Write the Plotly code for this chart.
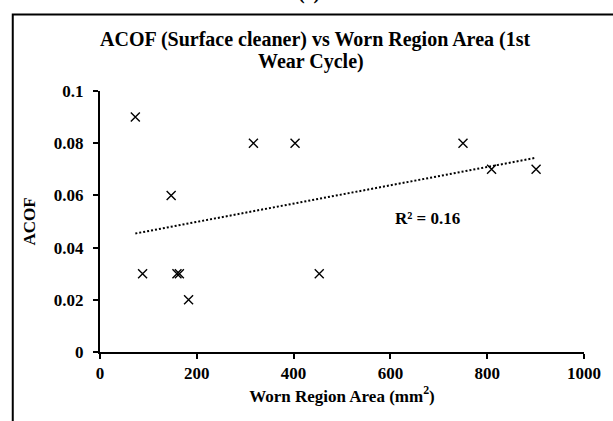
import numpy as np
import plotly.graph_objects as go

# ---- data ----
worn_area = [73, 88, 147, 159, 164, 183, 317, 403, 453, 750, 809, 901]
acof = [0.09, 0.03, 0.06, 0.03, 0.03, 0.02, 0.08, 0.08, 0.03, 0.08, 0.07, 0.07]

x_tick_vals = [0, 200, 400, 600, 800, 1000]
x_tick_text = ["0", "200", "400", "600", "800", "1000"]
y_tick_vals = [0, 0.02, 0.04, 0.06, 0.08, 0.1]
y_tick_text = ["0", "0.02", "0.04", "0.06", "0.08", "0.1"]

title_line1 = "ACOF (Surface cleaner) vs Worn Region Area (1st"
title_line2 = "Wear Cycle)"
x_title = "Worn Region Area (mm<sup>2</sup>)"
y_title = "ACOF"
panel_label = "(c)"

# ---- linear trend line from the data ----
xa = np.array(worn_area, dtype=float)
ya = np.array(acof, dtype=float)
slope, intercept = np.polyfit(xa, ya, 1)
pred = slope * xa + intercept
r2 = 1 - np.sum((ya - pred) ** 2) / np.sum((ya - ya.mean()) ** 2)
trend_x = [xa.min(), xa.max()]
trend_y = [slope * v + intercept for v in trend_x]

FONT = "Liberation Serif"
W, H = 613, 421
L, R, T, B = 100, 22, 91, 69
pw, ph = W - L - R, H - T - B


def px_x(p):
    return (p - L) / pw


def px_y(p):
    return (H - B - p) / ph


fig = go.Figure()
fig.add_trace(go.Scatter(
    x=trend_x, y=trend_y, mode="lines",
    line=dict(color="black", width=2, dash="2px,2px"),
    hoverinfo="skip",
))
fig.add_trace(go.Scatter(
    x=worn_area, y=acof, mode="markers",
    marker=dict(symbol="x-thin-open", size=9, color="black",
                line=dict(color="black", width=1.4)),
))

fig.update_layout(
    width=W, height=H,
    margin=dict(l=L, r=R, t=T, b=B),
    paper_bgcolor="white", plot_bgcolor="white",
    showlegend=False,
    font=dict(family=FONT, color="black"),
    xaxis=dict(
        range=[0, 1000], tickvals=x_tick_vals, ticktext=x_tick_text,
        showgrid=False, zeroline=False, showline=True, linecolor="black",
        linewidth=2, ticks="outside", ticklen=5, tickwidth=1.5,
        tickcolor="black",
        tickfont=dict(family=FONT, size=17, color="black", weight="bold"),
        title=dict(text=x_title, standoff=4,
                   font=dict(family=FONT, size=17, color="black", weight="bold")),
    ),
    yaxis=dict(
        range=[0, 0.1], tickvals=y_tick_vals, ticktext=y_tick_text,
        showgrid=False, zeroline=False, showline=True, linecolor="black",
        linewidth=2, ticks="outside", ticklen=5, tickwidth=1.5,
        tickcolor="black", ticklabelstandoff=6,
        tickfont=dict(family=FONT, size=17, color="black", weight="bold"),
        title=dict(text=y_title, standoff=14,
                   font=dict(family=FONT, size=17, color="black", weight="bold")),
    ),
)

# outer frame of the figure panel
fig.add_shape(type="rect", xref="paper", yref="paper",
              x0=px_x(11.5), x1=px_x(640), y0=px_y(440), y1=px_y(14.5),
              line=dict(color="black", width=2), fillcolor="rgba(0,0,0,0)",
              layer="below")

# titles and labels
fig.add_annotation(text=title_line1, xref="paper", yref="paper",
                   x=px_x(318), y=px_y(40), xanchor="center", yanchor="middle",
                   showarrow=False,
                   font=dict(family=FONT, size=20, color="black", weight="bold"))
fig.add_annotation(text=title_line2, xref="paper", yref="paper",
                   x=px_x(314), y=px_y(62), xanchor="center", yanchor="middle",
                   showarrow=False,
                   font=dict(family=FONT, size=20, color="black", weight="bold"))
fig.add_annotation(text=panel_label, xref="paper", yref="paper",
                   x=px_x(312), y=px_y(-7), xanchor="center", yanchor="middle",
                   showarrow=False,
                   font=dict(family=FONT, size=20, color="black", weight="bold"))
fig.add_annotation(text="R\u00b2 = %.2f" % r2, xref="x", yref="y",
                   x=676, y=0.0512, xanchor="center", yanchor="middle",
                   showarrow=False,
                   font=dict(family=FONT, size=17, color="black", weight="bold"))

fig.write_html("out.html", post_script="document.body.style.margin='0';",
               config={"displayModeBar": False})
